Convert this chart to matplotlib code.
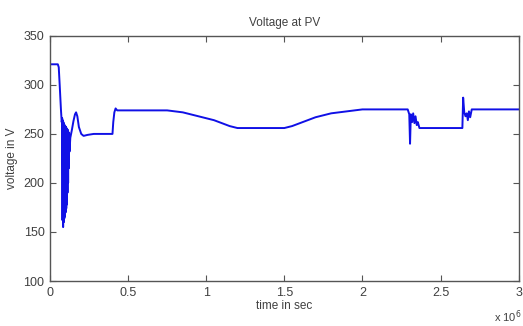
import matplotlib
matplotlib.use("Agg")
import matplotlib.pyplot as plt

plt.rcParams['font.family'] = ['Liberation Sans', 'DejaVu Sans']

# time in units of 1e6 s, voltage in V
time_s = [0.0, 0.05, 0.056, 0.062, 0.07, 0.075,
          0.078, 0.080, 0.082, 0.084, 0.086, 0.088, 0.090, 0.092, 0.094,
          0.096, 0.098, 0.100, 0.102, 0.104, 0.106, 0.108, 0.110, 0.112,
          0.114, 0.116, 0.118, 0.120, 0.122, 0.125, 0.130,
          0.140, 0.150, 0.160, 0.167, 0.175, 0.185, 0.200, 0.215, 0.240,
          0.280, 0.400, 0.405, 0.412, 0.420, 0.430, 0.60, 0.75,
          0.80, 0.85, 0.90, 0.95, 1.00, 1.05, 1.10, 1.15, 1.20,
          1.30, 1.40, 1.50, 1.55, 1.60, 1.65, 1.70, 1.75, 1.80, 1.85,
          1.90, 1.95, 2.00, 2.10, 2.20, 2.29, 2.300, 2.305, 2.310,
          2.318, 2.325, 2.333, 2.340, 2.348, 2.355, 2.365, 2.375,
          2.45, 2.55, 2.640, 2.645, 2.652, 2.660, 2.668, 2.675, 2.682,
          2.690, 2.700, 2.80, 2.90, 3.00]
voltage = [321, 321, 318, 300, 275, 262,
           266, 162, 264, 155, 262, 160, 260, 164, 259,
           166, 258, 170, 257, 174, 256, 178, 255, 190,
           254, 200, 252, 215, 251, 232, 246,
           254, 263, 270, 272, 268, 257, 250, 248, 249,
           250, 250, 262, 272, 276, 274, 274, 274,
           273, 272, 270, 268, 266, 264, 261, 258, 256,
           256, 256, 256, 258, 261, 264, 267, 269, 271, 272,
           273, 274, 275, 275, 275, 275, 270, 240, 270,
           262, 271, 261, 268, 259, 262, 256, 256,
           256, 256, 256, 287, 272, 268, 271, 264, 273,
           267, 275, 275, 275, 275]

x_ticks = [0, 0.5, 1, 1.5, 2, 2.5, 3]
x_tick_labels = ['0', '0.5', '1', '1.5', '2', '2.5', '3']
y_ticks = [100, 150, 200, 250, 300, 350]

fig = plt.figure(figsize=(5.23, 3.26), dpi=100)
ax = fig.add_axes([0.0956, 0.138, 0.896, 0.752])

ax.plot(time_s, voltage, color='#1010e6', linewidth=1.4)

ax.set_xlim(0, 3)
ax.set_ylim(100, 350)
ax.set_xticks(x_ticks)
ax.set_xticklabels(x_tick_labels)
ax.set_yticks(y_ticks)

text_col = '#404040'
for sp in ax.spines.values():
    sp.set_color('#555555')
    sp.set_linewidth(1.0)
ax.tick_params(direction='in', top=True, right=True, length=4,
               width=0.8, color='#555555', labelsize=9, labelcolor=text_col,
               pad=4)

ax.set_title('Voltage at PV', fontsize=8.5, color=text_col, pad=7)
ax.set_xlabel('time in sec', fontsize=8.5, color=text_col, labelpad=1)
ax.set_ylabel('voltage in V', fontsize=8.5, color=text_col, labelpad=4)

fig.text(0.944, 0.015, r'x 10$^{6}$', fontsize=8, color=text_col)

fig.savefig('out.png', dpi=100)
